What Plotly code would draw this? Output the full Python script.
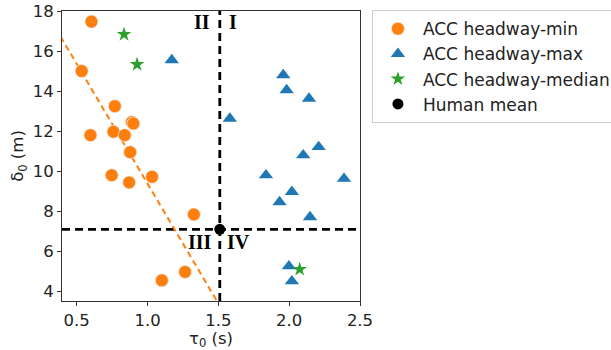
import plotly.graph_objects as go

# ---- data ----
min_tau = [0.604, 0.535, 0.769, 0.597, 0.759, 0.839, 0.890, 0.900, 0.877, 0.747, 0.870, 1.032, 1.327, 1.101, 1.265]
min_delta = [17.47, 15.00, 13.25, 11.80, 11.97, 11.80, 12.45, 12.38, 10.95, 9.80, 9.44, 9.72, 7.84, 4.55, 4.97]

max_tau = [1.171, 1.958, 1.982, 2.140, 1.581, 2.208, 2.099, 1.836, 2.387, 2.019, 1.932, 2.147, 1.998, 2.019]
max_delta = [15.55, 14.80, 14.05, 13.63, 12.63, 11.21, 10.80, 9.80, 9.63, 8.97, 8.46, 7.71, 5.26, 4.51]

med_tau = [0.834, 0.926, 2.074]
med_delta = [16.83, 15.33, 5.10]

human_tau = [1.51]
human_delta = [7.10]

fit_tau = [0.35, 1.55]
fit_delta = [17.15, 2.80]

quad_labels = ["II", "I", "III", "IV"]
quad_tau = [1.385, 1.605, 1.37, 1.645]
quad_delta = [17.45, 17.45, 6.45, 6.45]

x_ticks = [0.5, 1.0, 1.5, 2.0, 2.5]
y_ticks = [4, 6, 8, 10, 12, 14, 16, 18]

ORANGE = "#ff7f0e"
BLUE = "#1f77b4"
GREEN = "#2ca02c"

fig = go.Figure()

# fit line (not in legend)
fig.add_trace(go.Scatter(x=fit_tau, y=fit_delta, mode="lines",
                         line=dict(color=ORANGE, width=2, dash="6px,4px"),
                         showlegend=False, hoverinfo="skip"))

# quadrant dashed lines
fig.add_vline(x=human_tau[0], line=dict(color="black", width=2.8, dash="8px,5px"), layer="below")
fig.add_hline(y=human_delta[0], line=dict(color="black", width=2.8, dash="8px,5px"), layer="below")

fig.add_trace(go.Scatter(x=min_tau, y=min_delta, mode="markers", name="ACC headway-min",
                         marker=dict(color=ORANGE, size=13, symbol="circle",
                                     line=dict(color="rgba(235,235,235,0.9)", width=0.8))))
fig.add_trace(go.Scatter(x=max_tau, y=max_delta, mode="markers", name="ACC headway-max",
                         marker=dict(color=BLUE, size=12.5, symbol="triangle-up",
                                     line=dict(width=0))))
fig.add_trace(go.Scatter(x=med_tau, y=med_delta, mode="markers", name="ACC headway-median",
                         marker=dict(color=GREEN, size=11, symbol="star", line=dict(width=0))))
fig.add_trace(go.Scatter(x=human_tau, y=human_delta, mode="markers", name="Human mean",
                         marker=dict(color="black", size=11, symbol="circle", line=dict(width=0))))

for t, xx, yy in zip(quad_labels, quad_tau, quad_delta):
    fig.add_annotation(x=xx, y=yy, text="<b>" + t + "</b>", showarrow=False,
                       xanchor="center", yanchor="middle",
                       font=dict(family="Liberation Serif", size=20, color="black"))

axis_common = dict(showline=True, linecolor="#333", linewidth=1, mirror=True,
                   ticks="outside", ticklen=4, tickcolor="#333", showgrid=False, zeroline=False,
                   tickfont=dict(family="DejaVu Sans", size=16.5, color="#222"))

fig.update_xaxes(range=[0.396, 2.5], tickvals=x_ticks, ticktext=["0.5", "1.0", "1.5", "2.0", "2.5"],
                 title=dict(text="τ<sub>0</sub> (s)", font=dict(family="DejaVu Sans", size=16.5, color="#222"),
                            standoff=4),
                 **axis_common)
fig.update_yaxes(range=[3.52, 18.0], tickvals=y_ticks,
                 title=dict(text="δ<sub>0</sub> (m)", font=dict(family="DejaVu Sans", size=16.5, color="#222"),
                            standoff=4),
                 **axis_common)

fig.update_layout(
    width=611, height=350,
    margin=dict(l=62, r=251, t=11, b=49, autoexpand=False),
    plot_bgcolor="white", paper_bgcolor="white",
    font=dict(family="DejaVu Sans", color="#222"),
    legend=dict(x=1.04, y=1.003, xanchor="left", yanchor="top",
                bordercolor="#cccccc", borderwidth=1, bgcolor="white",
                font=dict(family="DejaVu Sans", size=17, color="#222"),
                itemwidth=40),
)

fig.write_html("out.html")
